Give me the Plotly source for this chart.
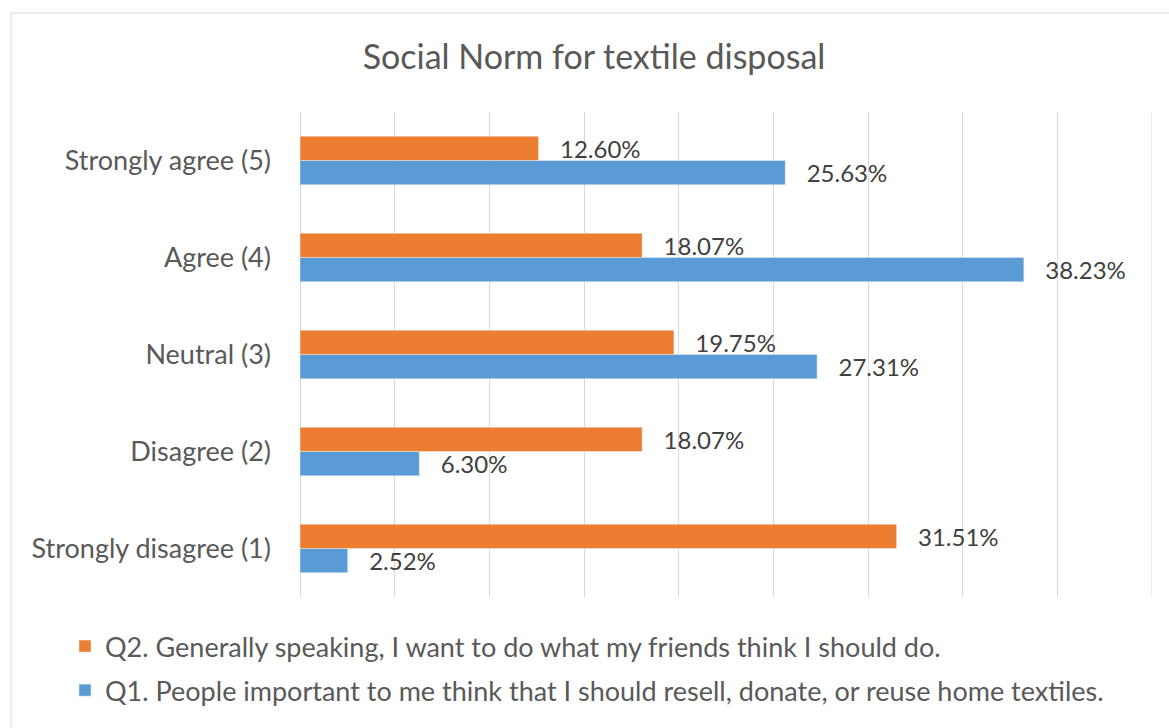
import plotly.graph_objects as go

categories = ["Strongly disagree (1)", "Disagree (2)", "Neutral (3)", "Agree (4)", "Strongly agree (5)"]
q1_values = [2.52, 6.30, 27.31, 38.23, 25.63]
q2_values = [31.51, 18.07, 19.75, 18.07, 12.60]
q1_name = "Q1. People important to me think that I should resell, donate, or reuse home textiles."
q2_name = "Q2. Generally speaking, I want to do what my friends think I should do."
title_text = "Social Norm for textile disposal"
x_max = 45

FONT = "Lato"
W, H = 1169, 728
L, R, T, B = 300, 17, 112, 131
pw, ph = W - L - R, H - T - B
PAD = "\u00a0\u00a0\u00a0"

fig = go.Figure()
fig.add_trace(go.Bar(
    y=categories, x=q1_values, orientation="h", name=q1_name,
    marker=dict(color="#5B9BD5"), legendgroup="q1", legendrank=2,
    text=[f"{PAD}{v:.2f}%" for v in q1_values], textposition="outside",
    constraintext="none",
    textfont=dict(family=FONT, size=24, color="#404040"), cliponaxis=False,
))
fig.add_trace(go.Bar(
    y=categories, x=q2_values, orientation="h", name=q2_name,
    marker=dict(color="#ED7D31"), legendgroup="q2", legendrank=1,
    text=[f"{PAD}{v:.2f}%" for v in q2_values], textposition="outside",
    constraintext="none",
    textfont=dict(family=FONT, size=24, color="#404040"), cliponaxis=False,
))

fig.update_layout(
    width=W, height=H,
    margin=dict(l=L, r=R, t=T, b=B),
    paper_bgcolor="white", plot_bgcolor="white",
    barmode="group", bargap=0.5, bargroupgap=0,
    font=dict(family=FONT, color="#595959"),
    title=dict(text=title_text, x=594 / W, xanchor="center", y=1 - 57 / H, yanchor="middle",
               font=dict(family=FONT, size=34, color="#595959")),
    xaxis=dict(range=[0, x_max], dtick=5, showticklabels=False, showgrid=True,
               gridcolor="#D9D9D9", gridwidth=1, zeroline=True, zerolinecolor="#D9D9D9",
               zerolinewidth=1, showline=False, fixedrange=True),
    yaxis=dict(categoryorder="array", categoryarray=categories, showgrid=False,
               ticklabelstandoff=28, tickfont=dict(family=FONT, size=27, color="#595959"),
               showline=False, fixedrange=True),
    legend=dict(orientation="v", x=(65 - L) / pw, xanchor="left", y=(H - B - 622) / ph,
                yanchor="top", traceorder="grouped", tracegroupgap=6,
                font=dict(family=FONT, size=27, color="#595959"), bgcolor="rgba(0,0,0,0)"),
    showlegend=True,
)

# gridline at the right end of the axis range
fig.add_shape(type="line", xref="x", yref="paper", x0=x_max, x1=x_max, y0=0, y1=1,
              line=dict(color="#D9D9D9", width=1), layer="below")

fig.add_shape(type="rect", xref="paper", yref="paper",
              x0=(11 - L) / pw, x1=(W + 10 - L) / pw,
              y0=(H - B - (H + 10)) / ph, y1=(H - B - 13) / ph,
              line=dict(color="#D9D9D9", width=1), fillcolor="rgba(0,0,0,0)", layer="below")

fig.write_html("out.html")
